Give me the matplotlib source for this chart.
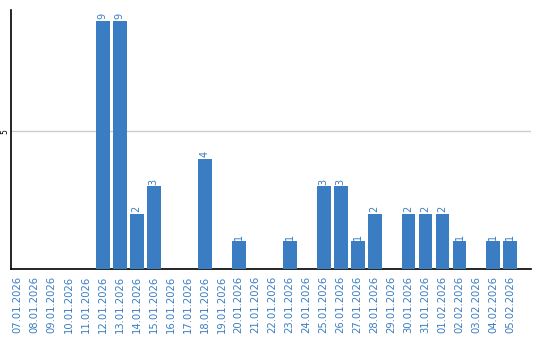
import matplotlib
matplotlib.use("Agg")
import matplotlib.pyplot as plt

dates = ["07.01.2026", "08.01.2026", "09.01.2026", "10.01.2026", "11.01.2026",
         "12.01.2026", "13.01.2026", "14.01.2026", "15.01.2026", "16.01.2026",
         "17.01.2026", "18.01.2026", "19.01.2026", "20.01.2026", "21.01.2026",
         "22.01.2026", "23.01.2026", "24.01.2026", "25.01.2026", "26.01.2026",
         "27.01.2026", "28.01.2026", "29.01.2026", "30.01.2026", "31.01.2026",
         "01.02.2026", "02.02.2026", "03.02.2026", "04.02.2026", "05.02.2026"]
counts = [0, 0, 0, 0, 0, 9, 9, 2, 3, 0,
          0, 4, 0, 1, 0, 0, 1, 0, 3, 3,
          1, 2, 0, 2, 2, 2, 1, 0, 1, 1]
y_ticks = [5]

blue = "#3a7dc2"

fig = plt.figure(figsize=(5.4, 3.4), dpi=100)
ax = fig.add_axes([0.0204, 0.2088, 0.9626, 0.7618])

x = list(range(len(dates)))
ax.bar(x, counts, width=0.82, color=blue, zorder=3)
for xi, c in zip(x, counts):
    if c > 0:
        ax.text(xi, c + 0.06, str(c), rotation=90, ha="center", va="bottom",
                fontsize=7, color=blue)

ax.set_xlim(-0.4, 30.2)
ax.set_ylim(0, 9.4)
ax.set_xticks(x)
ax.set_xticklabels(dates, rotation=90, fontsize=7.2, color=blue)
ax.tick_params(axis="x", length=0, pad=5)
ax.set_yticks(y_ticks)
ax.set_yticklabels([str(t) for t in y_ticks], rotation=90, fontsize=5.5, va="center")
ax.tick_params(axis="y", length=0, pad=1)
ax.yaxis.grid(True, color="#cccccc", linewidth=1, zorder=0)

for s in ["top", "right"]:
    ax.spines[s].set_visible(False)
ax.spines["left"].set_linewidth(1.2)
ax.spines["bottom"].set_linewidth(1.2)

fig.savefig("out.png", dpi=100)
